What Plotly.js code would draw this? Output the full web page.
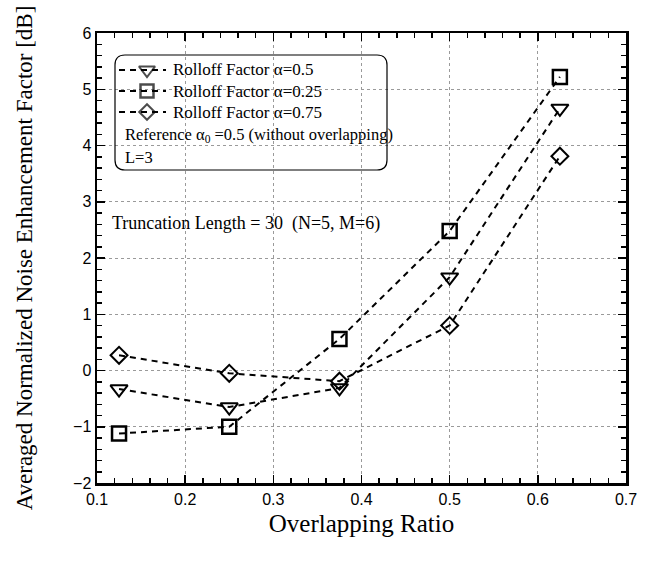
<!DOCTYPE html>
<html>
<head>
<meta charset="utf-8">
<script src="https://cdn.plot.ly/plotly-3.0.1.min.js"></script>
<style>html,body{margin:0;padding:0;background:#fff;}#chart{width:647px;height:565px;}</style>
</head>
<body>
<div id="chart"></div>
<script>
const overlapRatio = [0.125, 0.25, 0.375, 0.5, 0.625];
const rolloff050 = [-0.33, -0.65, -0.31, 1.66, 4.66];
const rolloff025 = [-1.12, -1.0, 0.56, 2.48, 5.22];
const rolloff075 = [0.27, -0.05, -0.19, 0.80, 3.81];
const seriesNames = ['Rolloff Factor \u03b1=0.5', 'Rolloff Factor \u03b1=0.25', 'Rolloff Factor \u03b1=0.75'];
const seriesSymbols = ['triangle-down-open', 'square-open', 'diamond-open'];
const seriesSizes = [15, 14, 13];
const seriesMarkerWidths = [2, 2.5, 2];

const lineStyle = {color: '#000', width: 2, dash: '6px,5px'};
const seriesValues = [rolloff050, rolloff025, rolloff075];

function px(x) { return (x - 97) / 529; }
function py(y) { return (483 - y) / 450; }

const data = [];
seriesValues.forEach((vals, i) => {
  data.push({
    x: overlapRatio, y: vals, name: seriesNames[i], type: 'scatter', mode: 'lines+markers',
    line: lineStyle, showlegend: false,
    marker: {symbol: seriesSymbols[i], size: seriesSizes[i], color: '#000', line: {color: '#000', width: seriesMarkerWidths[i]}}
  });
});
// legend samples drawn on a hidden overlay axis in paper-like units
const legendRowsY = [70, 91, 112];
seriesNames.forEach((name, i) => {
  const yy = py(legendRowsY[i]);
  data.push({
    x: [px(119), px(147), px(166)], y: [yy, yy, yy], xaxis: 'x2', yaxis: 'y2',
    type: 'scatter', mode: 'lines+markers', showlegend: false, hoverinfo: 'skip',
    line: lineStyle,
    marker: {symbol: seriesSymbols[i], size: [0, seriesSizes[i] - 1, 0], color: '#000', line: {color: '#000', width: seriesMarkerWidths[i]}}
  });
});

const bx0 = px(115), bx1 = px(387), by1 = py(55), by0 = py(170);
const rx = 10 / 529, ry = 10 / 450;
const boxPath = `M ${bx0+rx} ${by1} L ${bx1-rx} ${by1} Q ${bx1} ${by1} ${bx1} ${by1-ry} L ${bx1} ${by0+ry} Q ${bx1} ${by0} ${bx1-rx} ${by0} L ${bx0+rx} ${by0} Q ${bx0} ${by0} ${bx0} ${by0+ry} L ${bx0} ${by1-ry} Q ${bx0} ${by1} ${bx0+rx} ${by1} Z`;

const serif = 'Liberation Serif, Times New Roman, serif';
const sans = 'Liberation Sans, Arial, sans-serif';

const axisCommon = {
  showline: true, linecolor: '#000', linewidth: 2.5, mirror: 'allticks',
  ticks: 'inside', ticklen: 8, tickwidth: 1.5, tickcolor: '#000',
  showgrid: true, gridcolor: '#9a9a9a', gridwidth: 1, griddash: 'dot',
  zeroline: false,
  tickfont: {family: sans, size: 16, color: '#000'}
};

const legendAnn = seriesNames.map((name, i) => ({
  xref: 'paper', yref: 'paper', x: px(171), y: py(legendRowsY[i]), xanchor: 'left', yanchor: 'middle', showarrow: false,
  text: name, font: {family: serif, size: 17, color: '#000'}
}));

const layout = {
  width: 647, height: 565,
  margin: {l: 97, r: 21, t: 33, b: 82},
  paper_bgcolor: '#fff', plot_bgcolor: '#fff',
  showlegend: false,
  xaxis: Object.assign({}, axisCommon, {
    range: [0.1, 0.7], tick0: 0.1, dtick: 0.1, tickformat: '.1f',
    minor: {dtick: 0.02, tick0: 0.1, ticks: 'inside', ticklen: 5, tickwidth: 1.5, tickcolor: '#000', showgrid: false},
    title: {text: 'Overlapping Ratio', font: {family: serif, size: 25, color: '#000'}, standoff: 8}
  }),
  yaxis: Object.assign({}, axisCommon, {
    range: [-2, 6], tick0: 0, dtick: 1,
    minor: {dtick: 0.2, tick0: 0, ticks: 'inside', ticklen: 5, tickwidth: 1.5, tickcolor: '#000', showgrid: false},
    title: {text: 'Averaged Normalized Noise Enhancement Factor [dB]', font: {family: serif, size: 23, color: '#000'}, standoff: 34}
  }),
  xaxis2: {overlaying: 'x', range: [0, 1], visible: false, fixedrange: true},
  yaxis2: {overlaying: 'y', range: [0, 1], visible: false, fixedrange: true},
  shapes: [
    {type: 'path', xref: 'paper', yref: 'paper', path: boxPath, line: {color: '#000', width: 1.2}, fillcolor: 'rgba(0,0,0,0)'}
  ],
  annotations: legendAnn.concat([
    {xref: 'paper', yref: 'paper', x: px(123), y: py(135), xanchor: 'left', yanchor: 'middle', showarrow: false,
     text: 'Reference \u03b1<sub>0</sub> =0.5 (without overlapping)', font: {family: serif, size: 16.5, color: '#000'}},
    {xref: 'paper', yref: 'paper', x: px(123), y: py(157), xanchor: 'left', yanchor: 'middle', showarrow: false,
     text: 'L=3', font: {family: serif, size: 16.5, color: '#000'}},
    {xref: 'paper', yref: 'paper', x: px(110), y: py(224), xanchor: 'left', yanchor: 'middle', showarrow: false,
     text: 'Truncation Length = 30  (N=5, M=6)', font: {family: serif, size: 18, color: '#000'}}
  ])
};

Plotly.newPlot('chart', data, layout, {displayModeBar: false, staticPlot: true});
</script>
</body>
</html>
